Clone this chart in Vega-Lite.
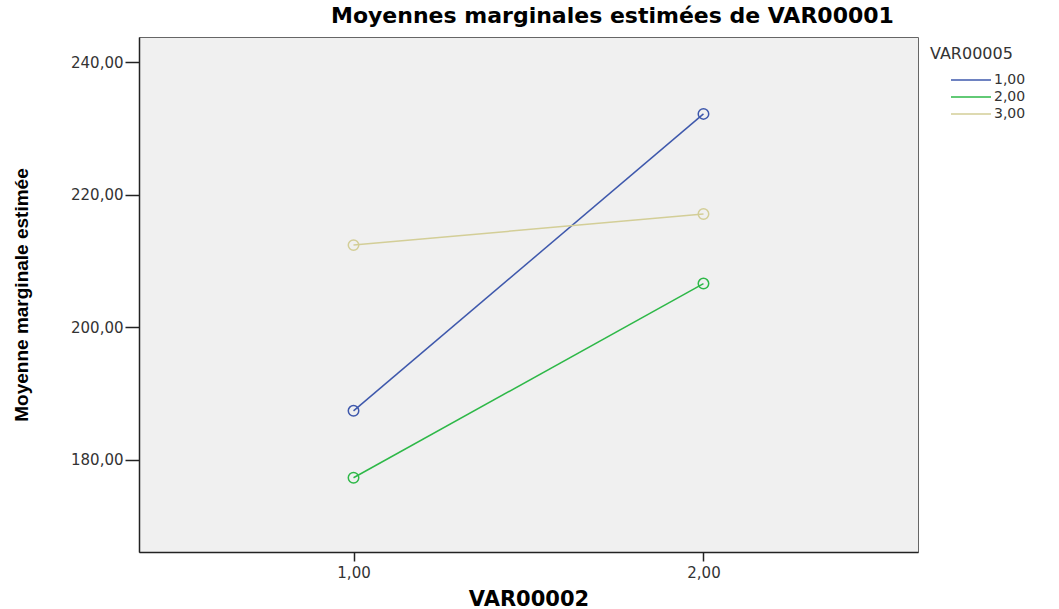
{
  "$schema": "https://vega.github.io/schema/vega-lite/v6.json",
  "width": 779,
  "height": 515,
  "autosize": {"type": "none"},
  "padding": {"left": 139, "top": 37, "right": 141, "bottom": 57},
  "background": "white",
  "title": {
    "text": "Moyennes marginales estimées de VAR00001",
    "anchor": "start",
    "frame": "group",
    "dx": 192,
    "offset": 9,
    "font": "DejaVu Sans",
    "fontSize": 22,
    "fontWeight": "bold",
    "color": "#000000"
  },
  "data": {
    "values": [
      {"VAR00002": 1, "VAR00005": "1,00", "moyenne": 187.4},
      {"VAR00002": 2, "VAR00005": "1,00", "moyenne": 232.2},
      {"VAR00002": 1, "VAR00005": "2,00", "moyenne": 177.3},
      {"VAR00002": 2, "VAR00005": "2,00", "moyenne": 206.6},
      {"VAR00002": 1, "VAR00005": "3,00", "moyenne": 212.4},
      {"VAR00002": 2, "VAR00005": "3,00", "moyenne": 217.1}
    ]
  },
  "encoding": {
    "x": {
      "field": "VAR00002",
      "type": "quantitative",
      "scale": {"domain": [0.387, 2.613], "nice": false, "zero": false},
      "axis": {
        "values": [1, 2],
        "labelExpr": "replace(format(datum.value, '.2f'), '.', ',')",
        "title": "VAR00002",
        "grid": false,
        "tickSize": 9,
        "labelPadding": 4,
        "titlePadding": 8
      }
    },
    "y": {
      "field": "moyenne",
      "type": "quantitative",
      "scale": {"domain": [166.1, 243.8], "nice": false, "zero": false},
      "axis": {
        "values": [180, 200, 220, 240],
        "labelExpr": "replace(format(datum.value, '.2f'), '.', ',')",
        "title": "Moyenne marginale estimée",
        "titleFont": "Liberation Sans",
        "titleFontSize": 19,
        "grid": false,
        "tickSize": 14,
        "labelPadding": 2,
        "titlePadding": 39
      }
    },
    "color": {
      "field": "VAR00005",
      "type": "nominal",
      "scale": {"domain": ["1,00", "2,00", "3,00"], "range": ["#3E58AC", "#2EB848", "#D3CE97"]},
      "legend": {
        "title": "VAR00005",
        "orient": "none",
        "legendX": 791,
        "legendY": 9,
        "symbolType": "M1.222,0H5.667",
        "symbolSize": 324,
        "symbolStrokeWidth": 1.5,
        "symbolFillColor": "transparent",
        "rowPadding": 0,
        "titleFont": "DejaVu Sans",
        "titleFontSize": 16,
        "titleFontWeight": "normal",
        "titleColor": "#333333",
        "titlePadding": 8,
        "labelFont": "DejaVu Sans",
        "labelFontSize": 14,
        "labelColor": "#333333",
        "labelOffset": 44
      }
    }
  },
  "layer": [
    {"mark": {"type": "line", "strokeWidth": 1.5}},
    {"mark": {"type": "point", "filled": false, "size": 110, "strokeWidth": 1.5, "opacity": 1}}
  ],
  "config": {
    "view": {"fill": "#F0F0F0", "stroke": "#666666", "strokeWidth": 1},
    "axis": {
      "domainColor": "#222222",
      "domainWidth": 1.5,
      "tickColor": "#222222",
      "tickWidth": 1.5,
      "labelFont": "DejaVu Sans",
      "labelFontSize": 15,
      "labelColor": "#333333",
      "titleFont": "DejaVu Sans",
      "titleFontSize": 21,
      "titleFontWeight": "bold",
      "titleColor": "#000000"
    }
  }
}
